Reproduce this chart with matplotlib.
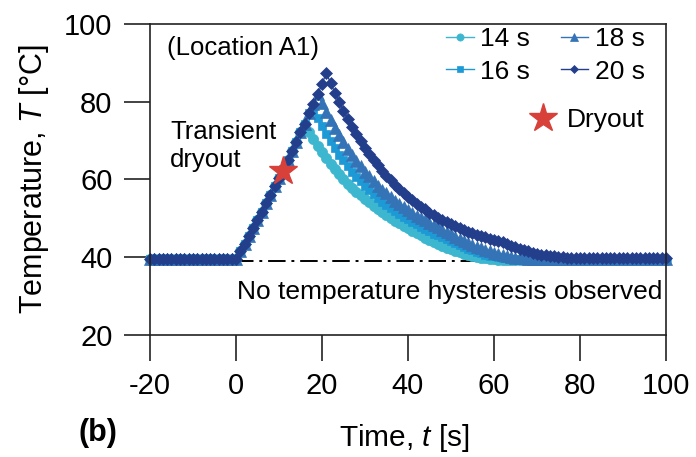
import matplotlib
matplotlib.use("Agg")
import matplotlib.pyplot as plt

plt.rcParams['font.family'] = 'Liberation Sans'
plt.rcParams['mathtext.fontset'] = 'custom'
plt.rcParams['mathtext.rm'] = 'Liberation Sans'
plt.rcParams['mathtext.it'] = 'Liberation Sans:italic'
plt.rcParams['axes.unicode_minus'] = False

# time axis, 1 s sampling
time_s = list(range(-20, 101))

# common part of all four runs (t = -20 ... -1 and the heating ramp from t = 0)
pre_heat = [39.5, 39.5, 39.5, 39.5, 39.5, 39.5, 39.5, 39.5, 39.5, 39.5,
            39.5, 39.5, 39.5, 39.5, 39.5, 39.5, 39.5, 39.5, 39.5, 39.5]
rise = [39.5, 41.5, 43.5, 45.5, 47.5, 49.6, 51.7, 53.9, 56.1, 58.3, 60.5,
        62.8, 65.1, 67.4, 69.7, 72.1, 74.4, 77.0, 79.4, 82.0, 84.5, 87.3]

# cooling after the heat pulse
decay_14 = [72.3, 70.5, 68.7, 67.1, 65.5, 64.1, 62.7, 61.4, 60.1, 58.9,
            57.9, 56.9, 55.9, 55.0, 54.1, 53.2, 52.4, 51.6, 50.8, 50.1,
            49.4, 48.7, 48.0, 47.4, 46.8, 46.2, 45.6, 45.0, 44.5, 44.0,
            43.5, 43.0, 42.5, 42.1, 41.7, 41.3, 40.9, 40.6, 40.3, 40.1,
            39.9, 39.7, 39.6, 39.5, 39.4, 39.4, 39.3, 39.3, 39.3, 39.3,
            39.3, 39.3, 39.3, 39.3, 39.3, 39.3, 39.3, 39.3, 39.3, 39.3,
            39.3, 39.3, 39.3, 39.3, 39.3, 39.3, 39.3, 39.3, 39.3, 39.3,
            39.3, 39.3, 39.3, 39.3, 39.3, 39.3, 39.3, 39.3, 39.3, 39.3,
            39.3, 39.3, 39.3, 39.3]
decay_16 = [78.0,
            75.8, 73.7, 71.7, 69.8, 68.1, 66.4, 64.9, 63.4, 62.0, 60.7,
            59.5, 58.3, 57.2, 56.2, 55.2, 54.3, 53.4, 52.6, 51.8, 51.1,
            50.4, 49.8, 49.1, 48.5, 47.9, 47.3, 46.7, 46.1, 45.6, 45.1,
            44.6, 44.1, 43.6, 43.1, 42.6, 42.2, 41.8, 41.4, 41.0, 40.7,
            40.4, 40.2, 40.0, 39.8, 39.7, 39.6, 39.5, 39.5, 39.4, 39.4,
            39.4, 39.4, 39.4, 39.4, 39.4, 39.4, 39.4, 39.4, 39.4, 39.4,
            39.4, 39.4, 39.4, 39.4, 39.4, 39.4, 39.4, 39.4, 39.4, 39.4,
            39.4, 39.4, 39.4, 39.4, 39.4, 39.4, 39.4, 39.4, 39.4, 39.4,
            39.4, 39.4]
decay_18 = [79.6, 77.4, 75.3, 73.3, 71.4, 69.6, 67.9, 66.3, 64.8, 63.4,
            62.0, 60.8, 59.6, 58.4, 57.4, 56.4, 55.4, 54.5, 53.7, 52.9,
            52.1, 51.4, 50.7, 50.1, 49.5, 48.9, 48.3, 47.7, 47.1, 46.5,
            45.9, 45.3, 44.7, 44.2, 43.7, 43.2, 42.7, 42.3, 41.9, 41.5,
            41.1, 40.8, 40.5, 40.3, 40.1, 39.9, 39.8, 39.7, 39.6, 39.6,
            39.5, 39.5, 39.5, 39.5, 39.5, 39.5, 39.5, 39.5, 39.5, 39.5,
            39.5, 39.5, 39.5, 39.5, 39.5, 39.5, 39.5, 39.5, 39.5, 39.5,
            39.5, 39.5, 39.5, 39.5, 39.5, 39.5, 39.5, 39.5, 39.5, 39.5,
            39.5]
decay_20 = [87.5, 84.8, 82.3, 79.9, 77.7, 75.5, 73.5, 71.6, 69.8, 68.1,
            66.5, 65.0, 63.6, 62.2, 61.0, 59.8, 58.6, 57.6, 56.5, 55.6,
            54.7, 53.8, 53.0, 52.3, 51.5, 50.9, 50.2, 49.6, 49.0, 48.5,
            48.0, 47.5, 47.1, 46.6, 46.2, 45.8, 45.5, 45.1, 44.8, 44.5,
            44.2, 43.8, 43.4, 43.0, 42.6, 42.2, 41.8, 41.5, 41.2, 40.9,
            40.7, 40.5, 40.3, 40.2, 40.1, 40.0, 39.9, 39.9, 39.8, 39.8,
            39.8, 39.8, 39.8, 39.8, 39.8, 39.8, 39.8, 39.8, 39.8, 39.8,
            39.8, 39.8, 39.8, 39.8, 39.8, 39.8, 39.8, 39.8, 39.8, 39.8]

temp_14 = pre_heat + rise[:17] + decay_14
temp_16 = pre_heat + rise[:18] + decay_16
temp_18 = pre_heat + rise[:20] + decay_18
temp_20 = pre_heat + rise[:21] + decay_20

labels = ['14 s', '16 s', '18 s', '20 s']
dryout_t = [11.0]
dryout_T = [62.3]
ref_t = [0, 100]
ref_T = [39.1, 39.1]

colors = ['#3db6cf', '#1d9ad6', '#3473b6', '#233f8c']
markers = ['o', 's', '^', 'D']
msizes = [7.4, 6.3, 8.0, 6.0]

fig = plt.figure(figsize=(6.96, 4.57), dpi=100)
ax = fig.add_axes([0.2155, 0.267, 0.7414, 0.6805])

ax.plot(ref_t, ref_T, color='k', lw=1.4, linestyle=(0, (9, 3, 1.5, 3)), zorder=1)

handles = []
for temp, c, m, ms, lab in zip([temp_14, temp_16, temp_18, temp_20], colors, markers, msizes, labels):
    h, = ax.plot(time_s, temp, color=c, lw=1.0, marker=m, ms=ms, mfc=c, mec=c,
                 mew=0.5, label=lab, clip_on=False, zorder=2)
    handles.append(h)

star, = ax.plot(dryout_t, dryout_T, linestyle='none', marker='*', ms=21,
                color='#d8403a', mec='#d8403a', label='Dryout', zorder=5)

leg1 = ax.legend(handles=handles, ncol=2, loc='upper right', bbox_to_anchor=(0.959, 0.99),
                 frameon=False, fontsize=19, handlelength=1.05, handletextpad=0.25,
                 columnspacing=1.15, labelspacing=0.32, borderpad=0, borderaxespad=0,
                 markerscale=0.7)
ax.add_artist(leg1)
ax.legend(handles=[star], loc='upper right', bbox_to_anchor=(0.959, 0.73),
          frameon=False, fontsize=19, handlelength=1.0, handletextpad=0.4,
          borderpad=0, borderaxespad=0)

ax.text(0.033, 0.923, '(Location A1)', transform=ax.transAxes, fontsize=18.5,
        ha='left', va='center')
ax.text(0.039, 0.607, 'Transient\ndryout', transform=ax.transAxes, fontsize=18.5,
        ha='left', va='center', linespacing=1.2)
ax.text(0.581, 0.138, 'No temperature hysteresis observed', transform=ax.transAxes,
        fontsize=19, ha='center', va='center')

ax.set_xlim(-20, 100)
ax.set_ylim(20, 100)
ax.set_xticks([-20, 0, 20, 40, 60, 80, 100])
ax.set_yticks([20, 40, 60, 80, 100])
ax.tick_params(axis='both', direction='out', length=19, width=1.2, labelsize=21,
               pad=8, color='#222222')
for sp in ax.spines.values():
    sp.set_linewidth(1.2)
    sp.set_color('#222222')

ax.set_xlabel('Time, $t$ [s]', fontsize=21.5)
ax.set_ylabel('Temperature, $T$ [°C]', fontsize=22)
ax.xaxis.set_label_coords(0.494, -0.28)
ax.yaxis.set_label_coords(-0.192, 0.5)

fig.text(0.113, 0.052, '(b)', fontsize=22, fontweight='bold', ha='left', va='center')

fig.savefig('out.png', dpi=100)
